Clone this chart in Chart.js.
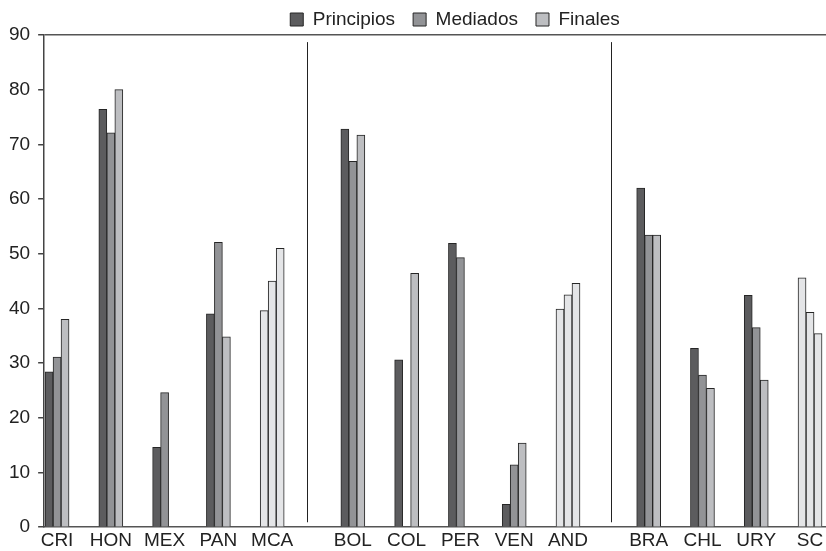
<!DOCTYPE html>
<html>
<head>
<meta charset="utf-8">
<script src="https://cdn.jsdelivr.net/npm/chart.js@4.4.1/dist/chart.umd.min.js"></script>
<style>
  html, body { margin: 0; padding: 0; background: #fff; overflow: hidden; }
  #wrap { width: 910px; height: 551px; }
</style>
</head>
<body>
<div id="wrap"><canvas id="myChart"></canvas></div>
<script>
// categorias (paises y agregados) y su posicion en el eje x
const categories = ['CRI', 'HON', 'MEX', 'PAN', 'MCA', 'BOL', 'COL', 'PER', 'VEN', 'AND', 'BRA', 'CHL', 'URY', 'SC'];
const xPositions = [0, 1, 2, 3, 4, 5.5, 6.5, 7.5, 8.5, 9.5, 11, 12, 13, 14];

// valores de cada serie
const principios = [28.4, 76.4, 14.6, 39.0, 39.6, 72.8, 30.6, 51.9, 4.2, 39.9, 62.0, 32.7, 42.4, 45.6];
const mediados   = [31.1, 72.1, 24.6, 52.1, 45.0, 66.9, null, 49.3, 11.4, 42.5, 53.4, 27.8, 36.5, 39.3];
const finales    = [38.0, 80.0, null, 34.8, 51.0, 71.7, 46.4, null, 15.4, 44.6, 53.4, 25.4, 26.9, 35.4];

// grupos agregados (barras en gris muy claro)
const aggregates = ['MCA', 'AND', 'SC'];

// ticks del eje y
const yTicks = [0, 10, 20, 30, 40, 50, 60, 70, 80, 90];

// lineas verticales que separan las regiones
const separators = [4.65, 10.3];

const FONT = '"Liberation Sans", Arial, sans-serif';
const aggColor = '#e4e5e7';

function series(values, color) {
    return {
        data: xPositions.map((x, i) => ({ x: x, y: values[i] })),
        backgroundColor: categories.map(c => aggregates.includes(c) ? aggColor : color),
        legendColor: color,
        borderColor: '#262626',
        borderWidth: 1,
        barThickness: 8,
    };
}

const separatorPlugin = {
    id: 'separators',
    afterDatasetsDraw(chart) {
        const { ctx, scales: { x, y } } = chart;
        ctx.save();
        ctx.strokeStyle = '#222';
        ctx.lineWidth = 1;
        separators.forEach(s => {
            const px = Math.round(x.getPixelForValue(s)) + 0.5;
            ctx.beginPath();
            ctx.moveTo(px, y.getPixelForValue(88.7));
            ctx.lineTo(px, y.getPixelForValue(0.9));
            ctx.stroke();
        });
        ctx.restore();
    }
};

const ctx = document.getElementById('myChart').getContext('2d');

const myChart = new Chart(ctx, {
    type: 'bar',
    data: {
        datasets: [
            Object.assign({ label: 'Principios' }, series(principios, '#5c5c5e')),
            Object.assign({ label: 'Mediados' }, series(mediados, '#929396')),
            Object.assign({ label: 'Finales' }, series(finales, '#bdbec1')),
        ],
    },
    options: {
        responsive: true,
        maintainAspectRatio: false,
        animation: false,
        // el grafico original es mas ancho que la ventana: el area sigue a la derecha
        layout: { padding: { left: 1, right: 1, top: -8, bottom: -3 } },
        plugins: {
            tooltip: { enabled: false },
            legend: {
                position: 'top',
                maxHeight: 43,
                labels: {
                    font: { family: FONT, size: 19 },
                    color: '#222',
                    boxWidth: 13,
                    boxHeight: 13,
                    padding: 18,
                    generateLabels(chart) {
                        return chart.data.datasets.map((ds, i) => ({
                            text: ds.label,
                            fillStyle: ds.legendColor,
                            strokeStyle: '#262626',
                            lineWidth: 1,
                            fontColor: '#222',
                            datasetIndex: i,
                        }));
                    }
                }
            }
        },
        scales: {
            x: {
                type: 'linear',
                min: -0.24,
                max: 15.84,
                offset: false,
                grid: { display: false, drawTicks: false, tickLength: 0 },
                border: { display: true, color: '#555', width: 1.5 },
                afterBuildTicks(axis) {
                    axis.ticks = xPositions.map(v => ({ value: v }));
                },
                ticks: {
                    autoSkip: false,
                    maxRotation: 0,
                    padding: 2,
                    color: '#222',
                    font: { family: FONT, size: 19 },
                    callback: v => categories[xPositions.indexOf(v)]
                }
            },
            y: {
                min: 0,
                max: 90,
                afterBuildTicks(axis) {
                    axis.ticks = yTicks.map(v => ({ value: v }));
                },
                grid: {
                    color: c => (c.tick && c.tick.value === 90) ? '#555' : 'rgba(0,0,0,0)',
                    lineWidth: 1.5,
                    tickColor: '#444',
                    tickLength: 6,
                },
                border: { display: true, color: '#444', width: 1.5 },
                ticks: {
                    padding: 8,
                    color: '#222',
                    font: { family: FONT, size: 19 },
                }
            }
        }
    },
    plugins: [separatorPlugin]
});
</script>
</body>
</html>
